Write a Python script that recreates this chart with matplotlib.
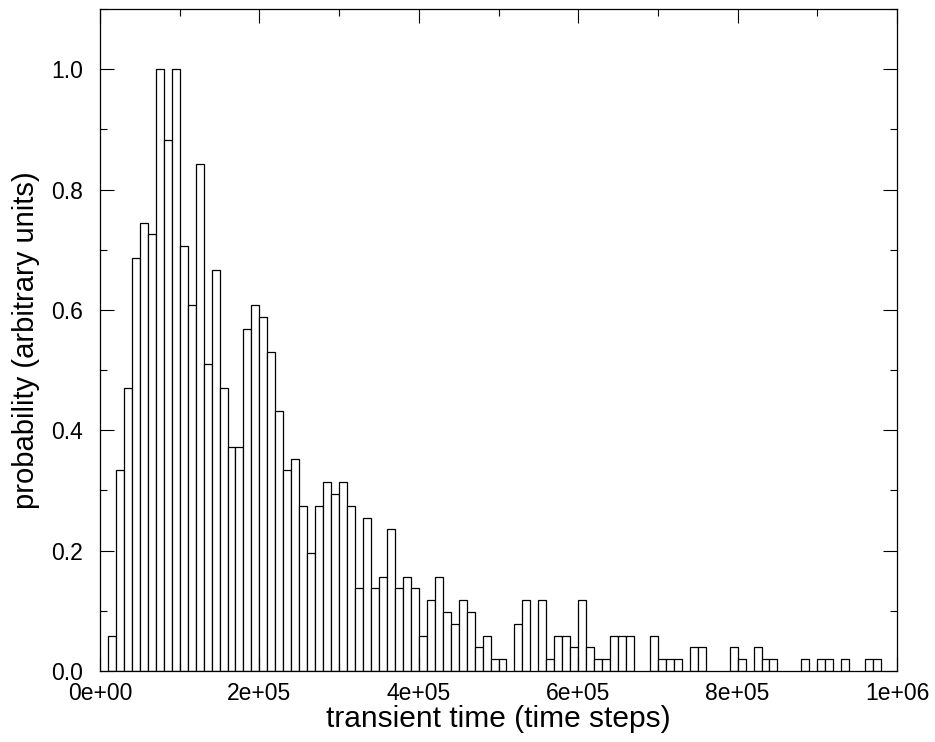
import numpy as np
import matplotlib
matplotlib.use('Agg')
from matplotlib import pyplot as plt
from matplotlib.ticker import MultipleLocator, FuncFormatter

plt.rcParams['font.family'] = ['Liberation Sans', 'DejaVu Sans']

# histogram of transient times, bins of 1e4 steps starting at 0
bin_width = 1e4
counts = [
    0, 3, 17, 24, 35, 38, 37, 51, 45, 51,
    36, 31, 43, 26, 34, 24, 19, 19, 29, 31,
    30, 27, 22, 17, 18, 14, 10, 14, 16, 15,
    16, 14, 7, 13, 7, 8, 12, 7, 8, 7,
    3, 6, 8, 5, 4, 6, 5, 2, 3, 1,
    1, 0, 4, 6, 0, 6, 1, 3, 3, 2,
    6, 2, 1, 1, 3, 3, 3, 0, 0, 3,
    1, 1, 1, 0, 2, 2, 0, 0, 0, 2,
    1, 0, 2, 1, 1, 0, 0, 0, 1, 0,
    1, 1, 0, 1, 0, 0, 1, 1, 0, 0,
]
x_labels = ['0e+00', '2e+05', '4e+05', '6e+05', '8e+05', '1e+06']

counts = np.array(counts, dtype=float)
prob = counts / counts.max()
left_edges = np.arange(len(counts)) * bin_width
keep = counts > 0


def x_fmt(v, pos):
    i = int(round(v / 2e5))
    return x_labels[i] if 0 <= i < len(x_labels) else ''


fig = plt.figure(figsize=(9.35, 7.42), dpi=100)
ax = fig.add_axes([100 / 935, 71 / 742, 797 / 935, 662 / 742])

ax.bar(left_edges[keep], prob[keep], width=bin_width, align='edge',
       facecolor='white', edgecolor='black', linewidth=0.9)

ax.set_xlim(0, 1e6)
ax.set_ylim(0, 1.1)

ax.xaxis.set_major_locator(MultipleLocator(2e5))
ax.xaxis.set_minor_locator(MultipleLocator(1e5))
ax.xaxis.set_major_formatter(FuncFormatter(x_fmt))
ax.yaxis.set_major_locator(MultipleLocator(0.2))
ax.yaxis.set_minor_locator(MultipleLocator(0.1))
ax.yaxis.set_major_formatter(FuncFormatter(lambda v, pos: f'{v:.1f}'))

ax.tick_params(which='both', direction='in', top=True, right=True, width=0.8)
ax.tick_params(which='major', length=10, labelsize=16.5)
ax.tick_params(which='minor', length=5)
ax.tick_params(axis='x', pad=8)
ax.tick_params(axis='y', pad=12)

for spine in ax.spines.values():
    spine.set_linewidth(0.9)

ax.set_xlabel('transient time (time steps)', fontsize=21.5, labelpad=0)
ax.set_ylabel('probability (arbitrary units)', fontsize=21, labelpad=8)

fig.savefig('out.png', dpi=100)
